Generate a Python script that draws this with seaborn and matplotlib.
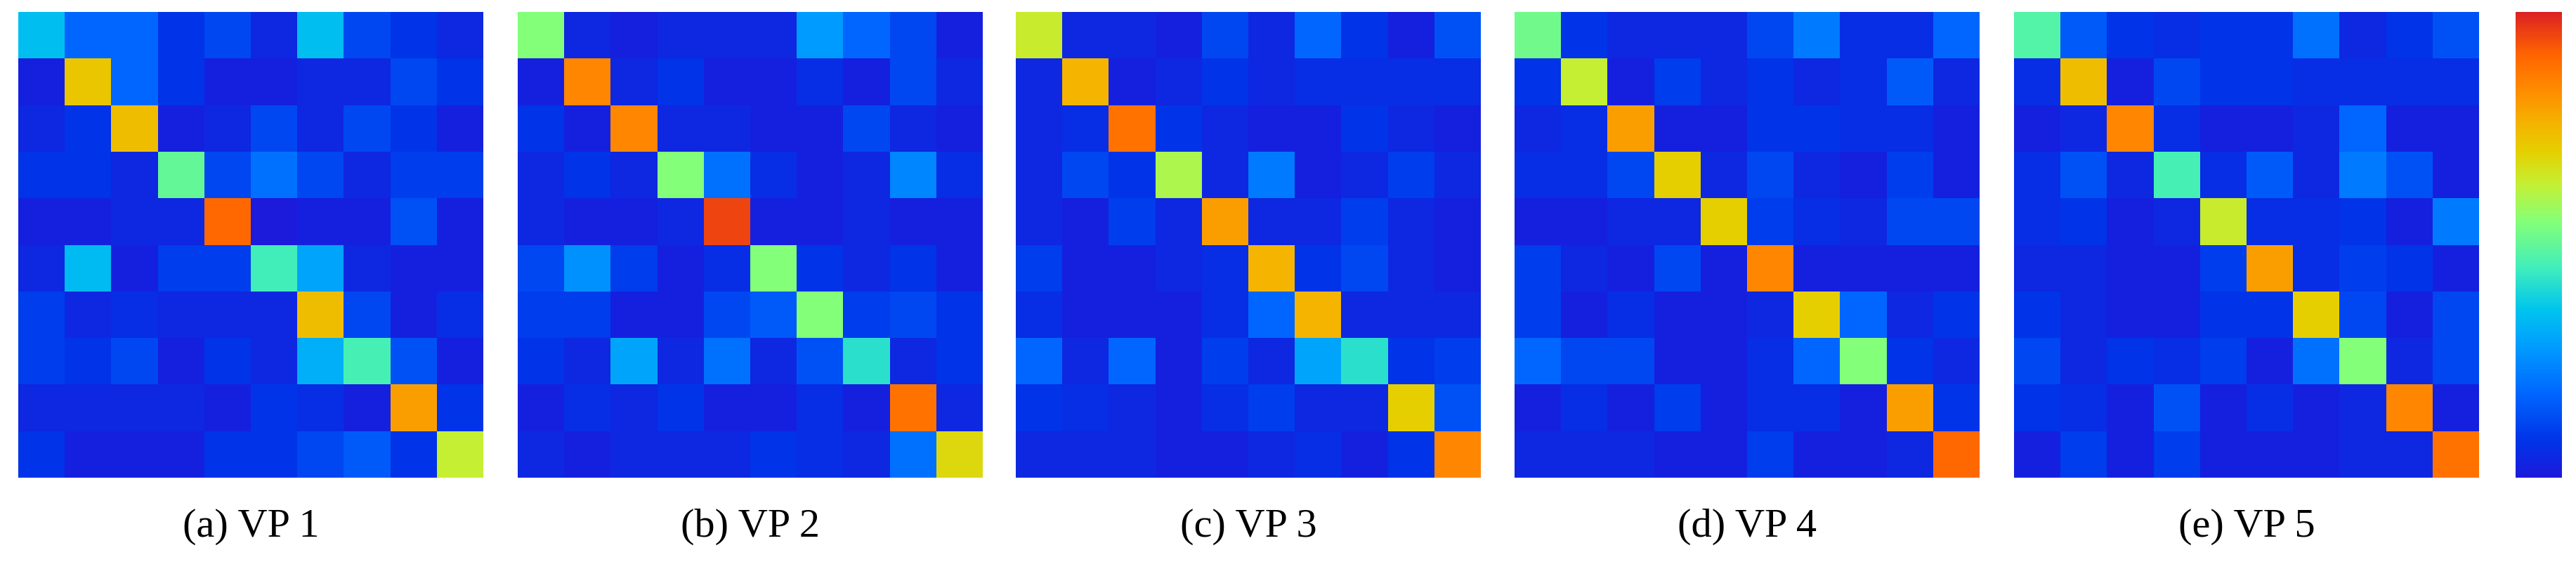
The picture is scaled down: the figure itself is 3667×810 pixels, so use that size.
import numpy as np
import matplotlib
matplotlib.use("Agg")
import matplotlib.pyplot as plt
from matplotlib.colors import LinearSegmentedColormap
import seaborn as sns

labels = ["(a) VP 1", "(b) VP 2", "(c) VP 3", "(d) VP 4", "(e) VP 5"]

vp1 = [[0.35, 0.18, 0.18, 0.08, 0.12, 0.04, 0.35, 0.12, 0.08, 0.04],
       [0.02, 0.72, 0.18, 0.08, 0.02, 0.02, 0.04, 0.04, 0.12, 0.08],
       [0.04, 0.08, 0.74, 0.02, 0.04, 0.12, 0.04, 0.12, 0.08, 0.02],
       [0.08, 0.08, 0.04, 0.50, 0.12, 0.20, 0.12, 0.04, 0.10, 0.10],
       [0.02, 0.02, 0.04, 0.04, 0.90, 0.00, 0.02, 0.02, 0.14, 0.02],
       [0.04, 0.34, 0.02, 0.10, 0.10, 0.45, 0.30, 0.04, 0.02, 0.02],
       [0.10, 0.04, 0.06, 0.04, 0.04, 0.04, 0.74, 0.12, 0.02, 0.06],
       [0.10, 0.08, 0.12, 0.02, 0.08, 0.04, 0.32, 0.46, 0.14, 0.02],
       [0.04, 0.04, 0.04, 0.04, 0.02, 0.08, 0.06, 0.02, 0.80, 0.08],
       [0.08, 0.02, 0.02, 0.02, 0.08, 0.08, 0.12, 0.16, 0.08, 0.63]]

vp2 = [[0.55, 0.04, 0.02, 0.04, 0.04, 0.04, 0.28, 0.18, 0.12, 0.02],
       [0.02, 0.84, 0.04, 0.08, 0.02, 0.02, 0.06, 0.02, 0.12, 0.04],
       [0.08, 0.02, 0.84, 0.04, 0.04, 0.02, 0.02, 0.12, 0.04, 0.02],
       [0.04, 0.08, 0.04, 0.55, 0.20, 0.06, 0.02, 0.04, 0.24, 0.06],
       [0.04, 0.02, 0.02, 0.04, 0.95, 0.02, 0.02, 0.04, 0.02, 0.02],
       [0.12, 0.26, 0.10, 0.02, 0.06, 0.55, 0.08, 0.04, 0.08, 0.02],
       [0.10, 0.10, 0.02, 0.02, 0.12, 0.16, 0.55, 0.10, 0.12, 0.08],
       [0.08, 0.04, 0.30, 0.04, 0.20, 0.04, 0.14, 0.42, 0.04, 0.08],
       [0.02, 0.06, 0.04, 0.08, 0.02, 0.02, 0.06, 0.02, 0.88, 0.04],
       [0.04, 0.02, 0.04, 0.04, 0.04, 0.08, 0.06, 0.04, 0.20, 0.68]]

vp3 = [[0.64, 0.04, 0.04, 0.02, 0.12, 0.04, 0.18, 0.08, 0.02, 0.14],
       [0.04, 0.76, 0.02, 0.04, 0.08, 0.04, 0.06, 0.06, 0.06, 0.06],
       [0.04, 0.06, 0.88, 0.08, 0.04, 0.02, 0.02, 0.08, 0.04, 0.02],
       [0.04, 0.12, 0.08, 0.60, 0.04, 0.22, 0.02, 0.04, 0.10, 0.04],
       [0.04, 0.02, 0.10, 0.04, 0.80, 0.04, 0.04, 0.10, 0.04, 0.02],
       [0.10, 0.02, 0.02, 0.04, 0.06, 0.76, 0.08, 0.12, 0.04, 0.02],
       [0.06, 0.02, 0.02, 0.02, 0.06, 0.18, 0.76, 0.04, 0.04, 0.04],
       [0.18, 0.04, 0.18, 0.02, 0.10, 0.04, 0.30, 0.42, 0.08, 0.10],
       [0.08, 0.06, 0.04, 0.02, 0.06, 0.10, 0.04, 0.04, 0.70, 0.14],
       [0.04, 0.04, 0.04, 0.02, 0.02, 0.04, 0.06, 0.02, 0.08, 0.84]]

vp4 = [[0.52, 0.08, 0.04, 0.04, 0.04, 0.12, 0.22, 0.06, 0.06, 0.18],
       [0.08, 0.63, 0.02, 0.10, 0.04, 0.08, 0.04, 0.06, 0.16, 0.04],
       [0.04, 0.06, 0.80, 0.02, 0.02, 0.08, 0.08, 0.06, 0.06, 0.02],
       [0.06, 0.06, 0.12, 0.70, 0.04, 0.12, 0.04, 0.02, 0.10, 0.02],
       [0.02, 0.02, 0.04, 0.04, 0.70, 0.10, 0.06, 0.04, 0.12, 0.12],
       [0.10, 0.04, 0.02, 0.12, 0.02, 0.84, 0.02, 0.02, 0.02, 0.02],
       [0.10, 0.02, 0.06, 0.02, 0.02, 0.04, 0.70, 0.18, 0.04, 0.08],
       [0.18, 0.12, 0.12, 0.02, 0.02, 0.06, 0.18, 0.55, 0.08, 0.04],
       [0.02, 0.06, 0.02, 0.10, 0.02, 0.06, 0.06, 0.02, 0.80, 0.08],
       [0.04, 0.04, 0.04, 0.02, 0.02, 0.10, 0.02, 0.02, 0.04, 0.90]]

vp5 = [[0.48, 0.16, 0.08, 0.06, 0.08, 0.08, 0.20, 0.04, 0.08, 0.14],
       [0.06, 0.74, 0.02, 0.12, 0.08, 0.08, 0.06, 0.06, 0.06, 0.06],
       [0.02, 0.04, 0.84, 0.06, 0.02, 0.02, 0.04, 0.18, 0.02, 0.02],
       [0.06, 0.14, 0.04, 0.46, 0.06, 0.16, 0.04, 0.22, 0.14, 0.02],
       [0.06, 0.08, 0.02, 0.04, 0.64, 0.06, 0.06, 0.08, 0.02, 0.22],
       [0.04, 0.04, 0.02, 0.02, 0.10, 0.80, 0.06, 0.10, 0.08, 0.02],
       [0.08, 0.04, 0.02, 0.02, 0.08, 0.08, 0.70, 0.12, 0.02, 0.12],
       [0.12, 0.04, 0.08, 0.06, 0.10, 0.02, 0.20, 0.55, 0.04, 0.12],
       [0.08, 0.06, 0.02, 0.14, 0.02, 0.06, 0.02, 0.04, 0.84, 0.02],
       [0.02, 0.10, 0.02, 0.10, 0.02, 0.02, 0.02, 0.04, 0.04, 0.88]]

mats = [vp1, vp2, vp3, vp4, vp5]

# jet-like map, starting at violet blue and ending at a soft red
cmap = LinearSegmentedColormap.from_list("jetish", [
    (0.00, "#1c1adb"), (0.08, "#0034e8"), (0.18, "#0066ff"), (0.28, "#009cff"),
    (0.36, "#00c4ee"), (0.45, "#40eebb"), (0.55, "#84ff78"), (0.63, "#c4f034"),
    (0.70, "#e4d000"), (0.76, "#f4b400"), (0.84, "#ff8800"), (0.91, "#ff6400"),
    (1.00, "#dc2222")])

W, H = 3667, 810
fig = plt.figure(figsize=(W / 100, H / 100), dpi=100)
lefts = [26, 737, 1446, 2156, 2867]
pw, top, bot = 662, 17, 680
cax = fig.add_axes([3581 / W, 1 - bot / H, 66 / W, (bot - top) / H])
for i, (m, lab) in enumerate(zip(mats, labels)):
    ax = fig.add_axes([lefts[i] / W, 1 - bot / H, pw / W, (bot - top) / H])
    last = i == len(mats) - 1
    sns.heatmap(np.array(m), ax=ax, cmap=cmap, vmin=0, vmax=1, square=False,
                cbar=last, cbar_ax=cax if last else None,
                xticklabels=False, yticklabels=False)
    ax.text(0.5, -0.105, lab, transform=ax.transAxes, ha="center", va="center",
            fontsize=42, family=["Liberation Serif", "DejaVu Serif"])
cax.set_yticks([])
cax.tick_params(length=0)
fig.savefig("out.png", dpi=100)
